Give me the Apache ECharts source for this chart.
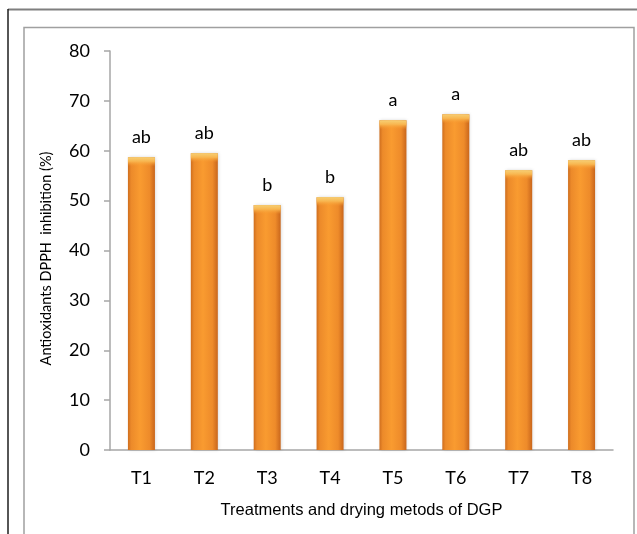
<!DOCTYPE html>
<html>
<head>
<meta charset="utf-8">
<script src="https://cdn.jsdelivr.net/npm/echarts@6/dist/echarts.min.js"></script>
<style>
html,body{margin:0;padding:0;background:#fff;}
#c{width:637px;height:534px;}
</style>
</head>
<body>
<div id="c"></div>
<script>
var categories = ['T1','T2','T3','T4','T5','T6','T7','T8'];
var values = [58.7, 59.5, 49.1, 50.7, 66.1, 67.3, 56.1, 58.1];
var letters = ['ab','ab','b','b','a','a','ab','ab'];
var yTicks = {min: 0, max: 80, interval: 10};

var chart = echarts.init(document.getElementById('c'), null, {renderer: 'canvas'});
var calibri = 'Lato, "Noto Sans", sans-serif';
var barGrad = new echarts.graphic.LinearGradient(0, 0, 1, 0, [
  {offset: 0, color: '#cf6e1e'},
  {offset: 0.12, color: '#ec8a2a'},
  {offset: 0.45, color: '#f99b30'},
  {offset: 0.8, color: '#ee8b2a'},
  {offset: 1, color: '#c9661c'}
]);
var capGrad = new echarts.graphic.LinearGradient(0, 0, 0, 1, [
  {offset: 0, color: '#f6cf74'},
  {offset: 0.45, color: '#f8b650'},
  {offset: 1, color: 'rgba(248,155,48,0)'}
]);

chart.setOption({
  animation: false,
  backgroundColor: '#fff',
  graphic: [
    {type: 'line', shape: {x1: 8, y1: 9.5, x2: 637, y2: 9.5}, style: {stroke: '#7f7f7f', lineWidth: 2}},
    {type: 'line', shape: {x1: 8, y1: 9, x2: 8, y2: 534}, style: {stroke: '#1e1e1e', lineWidth: 1.5}},
    {type: 'rect', shape: {x: 24, y: 27.5, width: 610, height: 520}, style: {fill: 'none', stroke: '#a0a0a0', lineWidth: 1.5}}
  ],
  grid: {left: 110, right: 24, top: 51, bottom: 84},
  xAxis: {
    type: 'category',
    data: categories,
    axisTick: {show: false},
    axisLine: {lineStyle: {color: '#a6a6a6', width: 1.5}},
    axisLabel: {color: '#000', fontSize: 18, fontFamily: calibri, margin: 19},
    name: 'Treatments and drying metods of DGP',
    nameLocation: 'middle',
    nameGap: 52,
    nameTextStyle: {color: '#000', fontSize: 16.5, fontFamily: '"Liberation Sans", Arial, sans-serif'}
  },
  yAxis: {
    type: 'value',
    min: yTicks.min, max: yTicks.max, interval: yTicks.interval,
    splitLine: {show: false},
    axisLine: {show: true, lineStyle: {color: '#a6a6a6', width: 1.5}},
    axisTick: {show: true, length: 6, lineStyle: {color: '#a6a6a6', width: 1.5}},
    axisLabel: {color: '#000', fontSize: 18, fontFamily: calibri, margin: 20},
    name: 'Antioxidants DPPH  inhibition (%)',
    nameLocation: 'middle',
    nameGap: 56,
    nameTextStyle: {color: '#000', fontSize: 14.5, fontFamily: calibri, padding: [0, 16, 0, 0]}
  },
  series: [
    {
      type: 'bar',
      data: values,
      barWidth: 27,
      itemStyle: {color: barGrad, shadowColor: 'rgba(0,0,0,0.15)', shadowBlur: 3, shadowOffsetX: 1},
      label: {
        show: true, position: 'top', distance: 11,
        formatter: function (p) { return letters[p.dataIndex]; },
        color: '#000', fontSize: 18, fontFamily: calibri
      },
      z: 2
    },
    {
      type: 'pictorialBar',
      data: values,
      symbol: 'rect',
      symbolSize: [27, 9],
      symbolPosition: 'end',
      symbolOffset: [0, 0],
      itemStyle: {color: capGrad},
      z: 3,
      silent: true
    }
  ]
});
</script>
</body>
</html>
